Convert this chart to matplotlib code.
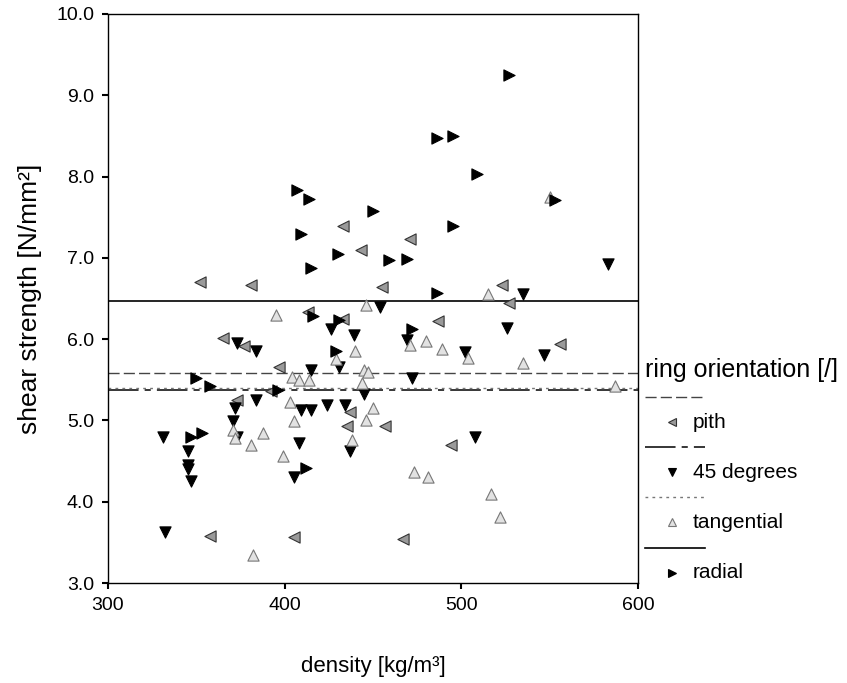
import matplotlib
matplotlib.use("Agg")
import matplotlib.pyplot as plt
from matplotlib.lines import Line2D

plt.rcParams['font.family'] = ['Liberation Sans', 'DejaVu Sans']

# ring orientation groups: density [kg/m3], shear strength [N/mm2]
pith_x = [352, 381, 433, 471, 443, 455, 523, 527, 487, 556, 413, 433, 365, 377,
          397, 392, 373, 437, 435, 457, 494, 358, 405, 467]
pith_y = [6.70, 6.66, 7.39, 7.23, 7.10, 6.64, 6.66, 6.45, 6.22, 5.94, 6.33, 6.25, 6.01, 5.91,
          5.66, 5.36, 5.25, 5.10, 4.93, 4.93, 4.70, 3.58, 3.57, 3.54]

deg45_x = [583, 535, 454, 526, 469, 502, 547, 472, 426, 439, 373, 384, 431, 415,
           384, 445, 372, 409, 415, 424, 434, 371, 373, 331, 408, 437, 345, 345,
           345, 347, 405, 332, 508]
deg45_y = [6.93, 6.56, 6.40, 6.14, 5.99, 5.84, 5.81, 5.52, 6.12, 6.05, 5.95, 5.85, 5.66, 5.62,
           5.25, 5.32, 5.15, 5.13, 5.13, 5.19, 5.19, 4.99, 4.80, 4.80, 4.72, 4.62, 4.62, 4.45,
           4.40, 4.25, 4.31, 3.63, 4.80]

tang_x = [550, 515, 446, 395, 480, 471, 489, 504, 535, 587, 440, 429, 445, 447,
          444, 404, 408, 414, 403, 450, 446, 405, 371, 372, 388, 381, 438, 399,
          473, 481, 517, 522, 382]
tang_y = [7.75, 6.55, 6.42, 6.30, 5.98, 5.93, 5.88, 5.77, 5.71, 5.42, 5.85, 5.76, 5.62, 5.60,
          5.46, 5.54, 5.50, 5.50, 5.23, 5.15, 5.01, 4.99, 4.88, 4.78, 4.85, 4.70, 4.76, 4.56,
          4.37, 4.30, 4.09, 3.81, 3.34]

radial_x = [527, 486, 495, 509, 553, 407, 414, 450, 409, 495, 430, 459, 469, 415,
            486, 416, 431, 472, 429, 350, 358, 347, 353, 412, 396]
radial_y = [9.25, 8.47, 8.50, 8.03, 7.71, 7.83, 7.72, 7.58, 7.29, 7.39, 7.05, 6.97, 6.99, 6.87,
            6.57, 6.28, 6.24, 6.12, 5.85, 5.52, 5.42, 4.80, 4.84, 4.41, 5.37]

group_names = ['pith', '45 degrees', 'tangential', 'radial']
group_means = [5.58, 5.37, 5.40, 6.47]

x_ticks = [300, 400, 500, 600]
y_ticks = [3.0, 4.0, 5.0, 6.0, 7.0, 8.0, 9.0, 10.0]

W, H = 847, 683
fig = plt.figure(figsize=(W / 100, H / 100), dpi=100)
ax = fig.add_axes([108 / W, 1 - 583 / H, (638 - 108) / W, (583 - 14) / H])

styles = [
    dict(marker='<', fc='#9a9a9a', ec='#333333', ls=(0, (8, 3)), lc='#444444', lw=1.0),
    dict(marker='v', fc='black', ec='black', ls=(0, (20, 4, 4, 4)), lc='black', lw=1.1),
    dict(marker='^', fc='#e2e2e2', ec='#777777', ls=(0, (2, 3)), lc='#777777', lw=1.0),
    dict(marker='>', fc='black', ec='black', ls='-', lc='black', lw=1.2),
]
data = [(pith_x, pith_y), (deg45_x, deg45_y), (tang_x, tang_y), (radial_x, radial_y)]

for (xs, ys), st, m in zip(data, styles, group_means):
    ax.scatter(xs, ys, marker=st['marker'], s=65, c=st['fc'], edgecolors=st['ec'],
               linewidths=0.8, zorder=3)
    ax.axhline(m, color=st['lc'], ls=st['ls'], lw=st['lw'], zorder=2)

ax.set_xlim(300, 600)
ax.set_ylim(3, 10)
ax.set_xticks(x_ticks)
ax.set_yticks(y_ticks)
ax.set_yticklabels([f'{v:.1f}' for v in y_ticks])
ax.tick_params(direction='out', length=4, width=1.5, labelsize=14, pad=6)
for sp in ax.spines.values():
    sp.set_linewidth(1.0)

ax.set_xlabel('density [kg/m³]', fontsize=16, labelpad=30)
ax.set_ylabel('shear strength [N/mm²]', fontsize=19, labelpad=10)

# legend drawn by hand
fig.text(645 / W, 1 - 370 / H, 'ring orientation [/]', fontsize=18, va='center', ha='left')
line_y = [397, 447, 497, 548]
for st, name, ly in zip(styles, group_names, line_y):
    fig.add_artist(Line2D([645 / W, 705 / W], [1 - ly / H, 1 - ly / H],
                          color=st['lc'], ls=st['ls'], lw=st['lw']))
    my = ly + 25
    fig.add_artist(Line2D([672 / W], [1 - my / H], marker=st['marker'], ls='none',
                          markersize=6, markerfacecolor=st['fc'], markeredgecolor=st['ec'],
                          markeredgewidth=0.8))
    fig.text(693 / W, 1 - my / H, name, fontsize=15, va='center', ha='left')

fig.savefig('out.png', dpi=100)
